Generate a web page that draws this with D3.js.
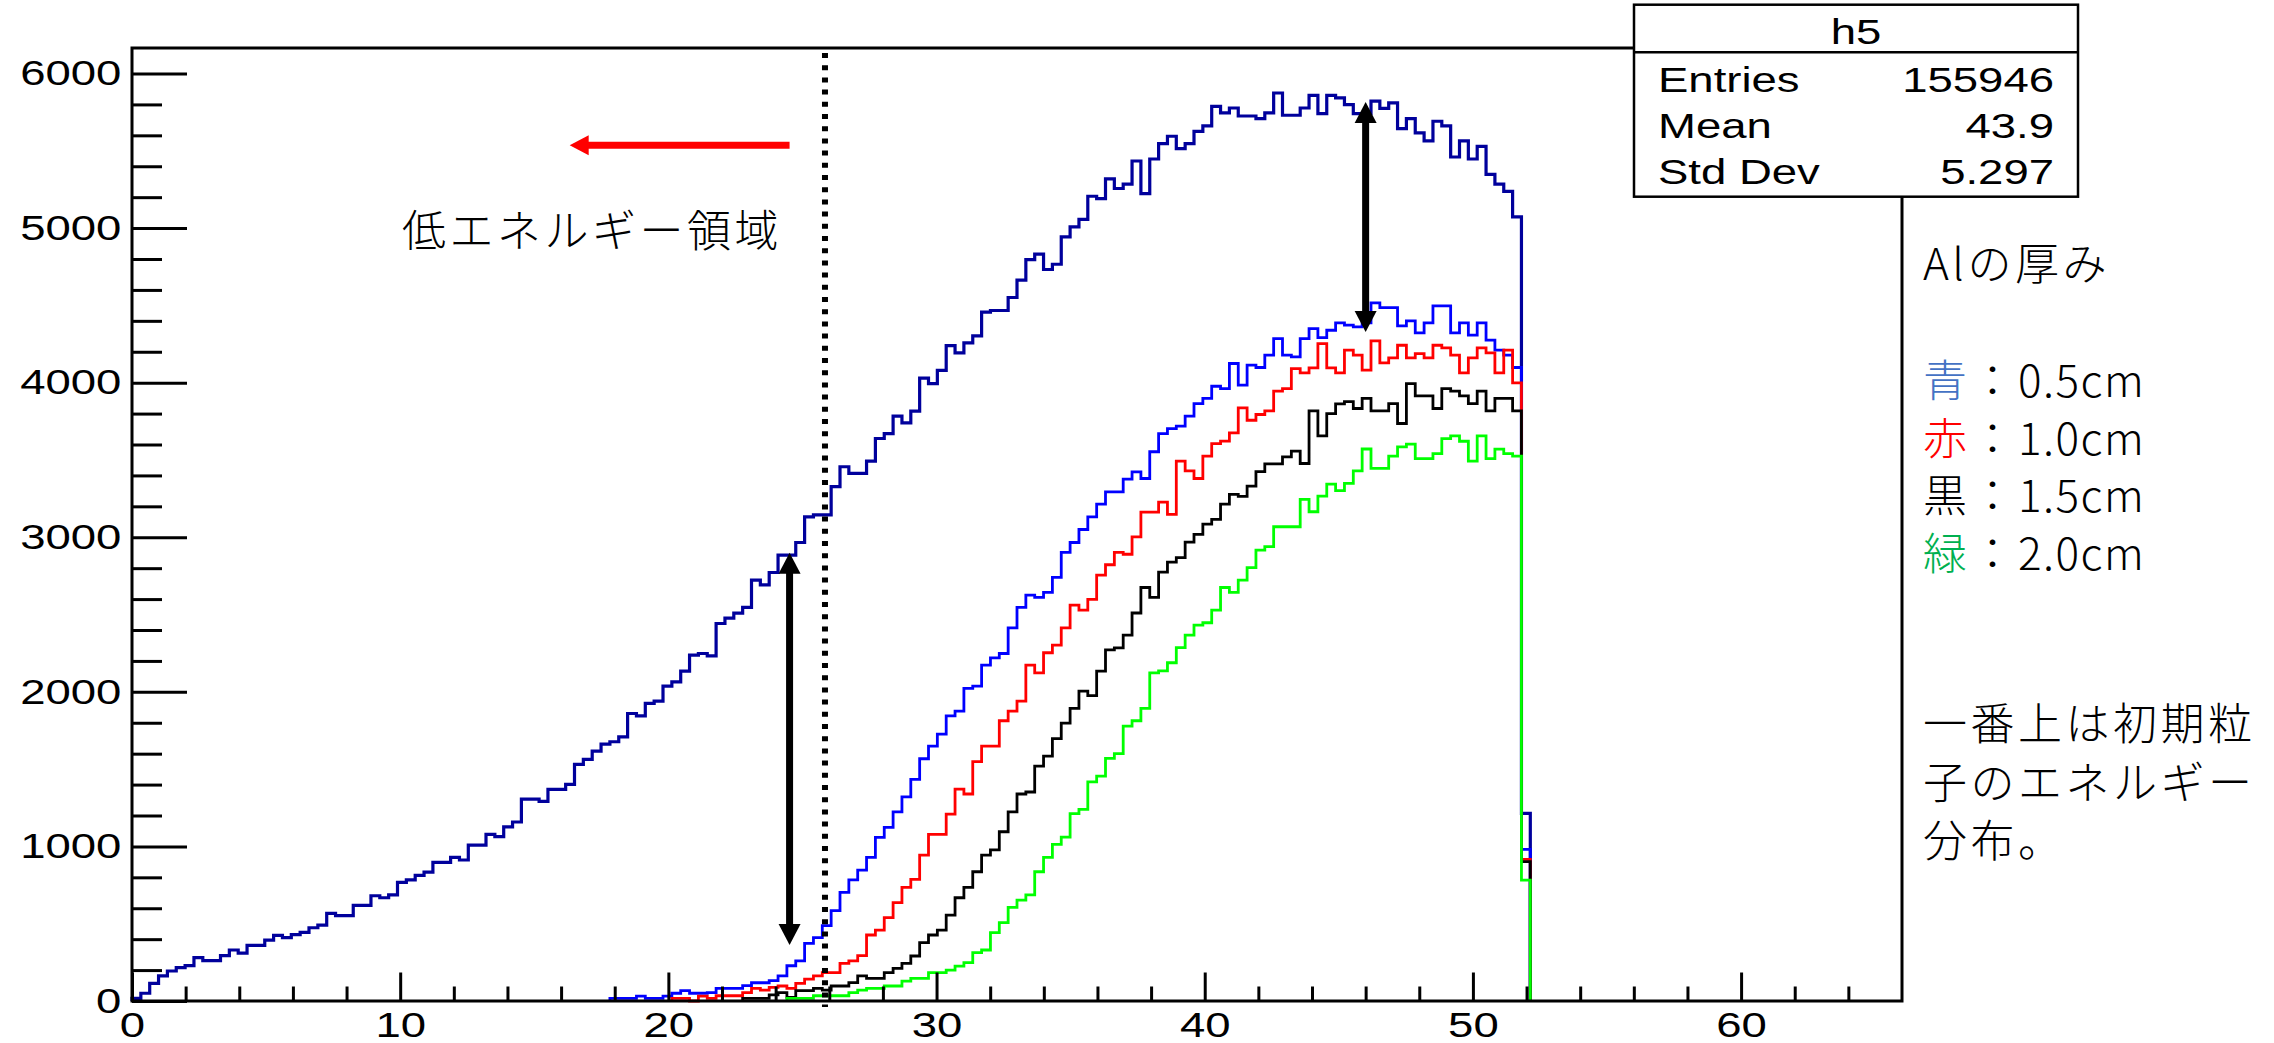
<!doctype html>
<html lang="ja">
<head>
  <meta charset="utf-8" />
  <title>h5 energy spectra</title>
  <script src="https://cdn.jsdelivr.net/npm/d3@7"></script>
  <style>
    body { margin: 0; background: #fff; }
    svg { display: block; }
    .root-text { font-family: "Liberation Sans", Arial, Helvetica, sans-serif; font-size: 35px; fill: #000; }
    .jp { font-family: "Noto Sans CJK JP", sans-serif; font-size: 44px; font-weight: 300; letter-spacing: 3.5px; fill: #000; }
  </style>
</head>
<body>
  <svg id="chart" width="2274" height="1043"></svg>
  <script>
    // histogram binning: 200 bins over 0..66
    const binWidth = 0.33;
    const xMax = 66;
    const yMax = 6165;

    // initial particle energy (top curve), bins 0..157
    const initialFirstBin = 0;
    const initialCounts = [
      17, 50, 114, 162, 194, 216, 229, 280, 261, 261,
      293, 330, 310, 360, 360, 394, 425, 410, 429, 444,
      474, 491, 567, 552, 552, 619, 619, 681, 668, 686,
      767, 783, 813, 834, 897, 897, 929, 912, 1009, 1009,
      1078, 1063, 1127, 1158, 1306, 1306, 1291, 1369, 1369, 1401,
      1531, 1563, 1617, 1662, 1677, 1709, 1860, 1845, 1925, 1940,
      2037, 2065, 2134, 2238, 2248, 2233, 2442, 2477, 2509, 2546,
      2723, 2692, 2772, 2884, 2884, 2966, 3132, 3145, 3145, 3328,
      3456, 3413, 3413, 3492, 3639, 3671, 3783, 3740, 3816, 4029,
      3994, 4079, 4240, 4193, 4257, 4303, 4456, 4467, 4467, 4551,
      4663, 4796, 4831, 4732, 4766, 4943, 5008, 5057, 5206, 5191,
      5318, 5256, 5284, 5434, 5223, 5447, 5547, 5594, 5514, 5547,
      5626, 5661, 5788, 5745, 5777, 5725, 5725, 5708, 5745, 5874,
      5730, 5730, 5777, 5859, 5740, 5859, 5842, 5799, 5740, 5740,
      5821, 5774, 5810, 5644, 5708, 5616, 5564, 5691, 5661, 5460,
      5564, 5447, 5529, 5348, 5284, 5238, 5072, 1214
    ];

    // Al 0.5 cm (blue), bins 54..157
    const al05FirstBin = 54;
    const al05Counts = [
      17, 17, 17, 32, 17, 17, 32, 50, 67, 50,
      50, 54, 82, 82, 82, 100, 118, 118, 132, 162,
      228, 259, 373, 410, 487, 584, 703, 783, 847, 929,
      1058, 1123, 1224, 1321, 1434, 1567, 1649, 1727, 1845, 1875,
      2022, 2037, 2173, 2220, 2248, 2414, 2546, 2626, 2611, 2643,
      2740, 2902, 2966, 3050, 3132, 3214, 3294, 3294, 3376, 3423,
      3380, 3553, 3671, 3703, 3719, 3783, 3865, 3898, 3977, 3962,
      4124, 3984, 4113, 4098, 4178, 4285, 4178, 4167, 4285, 4350,
      4292, 4339, 4387, 4372, 4361, 4387, 4516, 4486, 4486, 4367,
      4400, 4322, 4387, 4497, 4497, 4322, 4387, 4307, 4387, 4275,
      4210, 4178, 4098, 981
    ];

    // Al 1.0 cm (red), bins 61..157
    const al10FirstBin = 61;
    const al10Counts = [
      17, 17, 0, 32, 17, 34, 34, 34, 54, 82,
      71, 88, 97, 82, 114, 142, 162, 183, 183, 244,
      259, 293, 427, 459, 539, 636, 735, 787, 944, 1078,
      1078, 1209, 1371, 1339, 1548, 1649, 1649, 1813, 1875, 1940,
      2173, 2123, 2253, 2302, 2414, 2561, 2529, 2598, 2755, 2822,
      2902, 2890, 3003, 3162, 3162, 3227, 3148, 3493, 3430, 3380,
      3525, 3606, 3622, 3675, 3837, 3757, 3794, 3818, 3945, 3962,
      4091, 4063, 4096, 4253, 4096, 4063, 4210, 4178, 4081, 4270,
      4128, 4160, 4242, 4160, 4188, 4160, 4242, 4225, 4178, 4063,
      4160, 4225, 4193, 4063, 4210, 3999, 916
    ];

    // Al 1.5 cm (black), bins 69..157
    const al15FirstBin = 69;
    const al15Counts = [
      17, 17, 17, 39, 54, 24, 67, 67, 82, 71,
      97, 97, 119, 162, 147, 147, 183, 211, 244, 291,
      377, 427, 459, 556, 668, 735, 836, 944, 977, 1095,
      1224, 1339, 1352, 1520, 1584, 1697, 1798, 1893, 2005, 1976,
      2134, 2272, 2285, 2367, 2510, 2675, 2611, 2775, 2839, 2868,
      2968, 3019, 3085, 3116, 3214, 3277, 3265, 3331, 3425, 3475,
      3475, 3520, 3557, 3477, 3818, 3656, 3800, 3863, 3878, 3833,
      3898, 3818, 3818, 3865, 3736, 3994, 3915, 3915, 3833, 3962,
      3945, 3915, 3865, 3945, 3818, 3898, 3898, 3818, 901
    ];

    // Al 2.0 cm (green), bins 74..157
    const al20FirstBin = 74;
    const al20Counts = [
      17, 17, 17, 34, 34, 34, 34, 54, 71, 82,
      82, 97, 97, 129, 147, 147, 183, 183, 200, 226,
      248, 313, 330, 442, 507, 606, 653, 686, 836, 929,
      1013, 1060, 1212, 1240, 1418, 1455, 1569, 1600, 1778, 1813,
      1893, 2123, 2136, 2188, 2286, 2367, 2432, 2447, 2529, 2675,
      2643, 2723, 2804, 2917, 2939, 3068, 3068, 3068, 3245, 3165,
      3266, 3344, 3301, 3348, 3430, 3571, 3446, 3446, 3525, 3585,
      3602, 3509, 3509, 3541, 3638, 3656, 3621, 3492, 3656, 3509,
      3570, 3541, 3525, 782
    ];

    const xMajorTicks = [0, 10, 20, 30, 40, 50, 60];
    const yMajorTicks = [0, 1000, 2000, 3000, 4000, 5000, 6000];

    const statsTitle = "h5";
    const statsNames = ["Entries", "Mean", "Std Dev"];
    const statsValues = ["155946", "43.9", "5.297"];

    const legendTitle = "Alの厚み";
    const legendKanji = ["青", "赤", "黒", "緑"];
    const legendThickness = ["0.5cm", "1.0cm", "1.5cm", "2.0cm"];
    const legendKanjiColors = ["#4472c4", "#ff0000", "#000000", "#00b050"];
    const noteLines = ["一番上は初期粒", "子のエネルギー", "分布。"];
    const regionLabel = "低エネルギー領域";

    const svg = d3.select("#chart");
    const x = d3.scaleLinear().domain([0, xMax]).range([132, 1902]);
    const y = d3.scaleLinear().domain([0, yMax]).range([1001, 48]);
    const stretch = "scale(1.3,1)";

    const series = [
      { first: initialFirstBin, counts: initialCounts, color: "#00009c", width: 3.2 },
      { first: al05FirstBin, counts: al05Counts, color: "#0000ff", width: 2.8 },
      { first: al10FirstBin, counts: al10Counts, color: "#ff0000", width: 2.8 },
      { first: al15FirstBin, counts: al15Counts, color: "#000000", width: 2.8 },
      { first: al20FirstBin, counts: al20Counts, color: "#00ff00", width: 2.8 }
    ];

    const histPoints = s => {
      const pts = [[s.first * binWidth, 0]];
      s.counts.forEach((c, i) => pts.push([(s.first + i) * binWidth, c]));
      const end = (s.first + s.counts.length) * binWidth;
      pts.push([end, s.counts[s.counts.length - 1]]);
      pts.push([end, 0]);
      return pts;
    };

    const step = d3.line()
      .x(d => x(d[0]))
      .y(d => y(d[1]))
      .curve(d3.curveStepAfter);

    svg.append("g")
      .selectAll("path")
      .data(series)
      .enter()
      .append("path")
      .attr("d", d => step(histPoints(d)))
      .attr("fill", "none")
      .attr("stroke", d => d.color)
      .attr("stroke-width", d => d.width);

    // axes, ROOT style: ticks pointing into the frame
    const xAxis = svg.append("g").attr("transform", `translate(0,${y(0)})`);
    xAxis.call(d3.axisBottom(x).tickValues(d3.range(0, 66, 2).filter(v => v % 10 !== 0))
      .tickSize(-14.5).tickSizeOuter(0).tickFormat(""));
    xAxis.append("g").call(d3.axisBottom(x).tickValues(xMajorTicks)
      .tickSize(-28.5).tickSizeOuter(0).tickPadding(11).tickFormat(d3.format("d")));

    const yAxis = svg.append("g").attr("transform", `translate(${x(0)},0)`);
    yAxis.call(d3.axisLeft(y).tickValues(d3.range(0, 6001, 200).filter(v => v % 1000 !== 0))
      .tickSize(-30).tickSizeOuter(0).tickFormat(""));
    yAxis.append("g").call(d3.axisLeft(y).tickValues(yMajorTicks)
      .tickSize(-55).tickSizeOuter(0).tickPadding(8.2).tickFormat(d3.format("d")));

    svg.selectAll(".domain").remove();
    svg.selectAll(".tick line").attr("stroke", "#000").attr("stroke-width", 3);
    svg.selectAll(".tick text").attr("class", "root-text").attr("transform", stretch);

    svg.append("rect")
      .attr("x", x(0))
      .attr("y", y(yMax))
      .attr("width", x(xMax) - x(0))
      .attr("height", y(0) - y(yMax))
      .attr("fill", "none")
      .attr("stroke", "#000")
      .attr("stroke-width", 3);

    // annotations
    const arrowHead = (tx, ty, dx, dy, len, half) => {
      const bx = tx - dx * len, by = ty - dy * len;
      return `M${tx},${ty}L${bx - dy * half},${by + dx * half}L${bx + dy * half},${by - dx * half}Z`;
    };

    const drawArrow = (x1, y1, x2, y2, color, w, len, half, both) => {
      const L = Math.hypot(x2 - x1, y2 - y1);
      const ux = (x2 - x1) / L, uy = (y2 - y1) / L;
      const g = svg.append("g");
      g.append("line")
        .attr("x1", both ? x1 + ux * len * 0.9 : x1).attr("y1", both ? y1 + uy * len * 0.9 : y1)
        .attr("x2", x2 - ux * len * 0.9).attr("y2", y2 - uy * len * 0.9)
        .attr("stroke", color).attr("stroke-width", w);
      g.append("path").attr("d", arrowHead(x2, y2, ux, uy, len, half)).attr("fill", color);
      if (both) g.append("path").attr("d", arrowHead(x1, y1, -ux, -uy, len, half)).attr("fill", color);
    };

    svg.append("line")
      .attr("x1", x(25.84)).attr("x2", x(25.84))
      .attr("y1", y(yMax) + 5).attr("y2", y(0) + 6)
      .attr("stroke", "#000")
      .attr("stroke-width", 6)
      .attr("stroke-dasharray", "5 7.2");

    drawArrow(x(24.52), y(362), x(24.52), y(2899), "#000", 7, 21, 11, true);
    drawArrow(x(46.0), y(4328), x(46.0), y(5816), "#000", 7, 21, 11, true);
    drawArrow(x(24.52), y(5536), x(16.32), y(5536), "#ff0000", 7, 19, 10, false);

    svg.append("text")
      .attr("class", "jp")
      .attr("x", 402)
      .attr("y", 247)
      .text(regionLabel);

    // stats box
    const stats = svg.append("g");
    stats.append("rect")
      .attr("x", 1634).attr("y", 4.7)
      .attr("width", 444).attr("height", 192)
      .attr("fill", "#fff").attr("stroke", "#000").attr("stroke-width", 2.5);
    stats.append("line")
      .attr("x1", 1634).attr("x2", 2078)
      .attr("y1", 52.3).attr("y2", 52.3)
      .attr("stroke", "#000").attr("stroke-width", 2.5);
    stats.append("g")
      .attr("transform", `translate(1856,44) ${stretch}`)
      .append("text")
      .attr("class", "root-text")
      .attr("text-anchor", "middle")
      .text(statsTitle);
    statsNames.forEach((name, i) => {
      const base = 91.5 + i * 46.3;
      stats.append("g")
        .attr("transform", `translate(1658,${base}) ${stretch}`)
        .append("text").attr("class", "root-text").text(name);
      stats.append("g")
        .attr("transform", `translate(2054,${base}) ${stretch}`)
        .append("text").attr("class", "root-text").attr("text-anchor", "end").text(statsValues[i]);
    });

    // legend written beside the frame
    const legend = svg.append("g");
    legend.append("text").attr("class", "jp").attr("x", 1923).attr("y", 280).text(legendTitle);
    legendKanji.forEach((k, i) => {
      const t = legend.append("text").attr("class", "jp").attr("x", 1923).attr("y", 397 + i * 57.5);
      t.append("tspan").style("fill", legendKanjiColors[i]).text(k);
      t.append("tspan").text("：");
      t.append("tspan").style("letter-spacing", "1.5px").text(legendThickness[i]);
    });
    const note = legend.append("text").attr("class", "jp").attr("x", 1923).attr("y", 740);
    noteLines.forEach((line, i) => {
      note.append("tspan").attr("x", 1923).attr("dy", i === 0 ? 0 : 58.5).text(line);
    });
  </script>
</body>
</html>
